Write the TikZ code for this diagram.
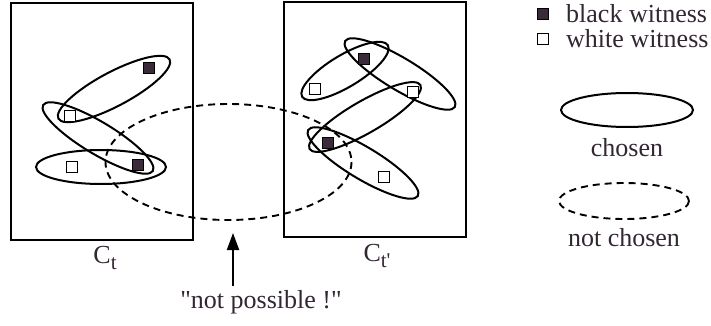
\documentclass[tikz,border=0pt]{standalone}
\usepackage{fontspec}
\setmainfont{Liberation Serif}
\newfontfamily\rawfont{Liberation Serif}
\usetikzlibrary{arrows.meta}
\definecolor{ink}{RGB}{50,38,50}
\definecolor{sqfill}{RGB}{58,42,58}
\tikzset{
  lbl/.style={inner sep=0pt, text=ink, font=\rawfont\fontsize{26}{30}\selectfont},
  bsq/.style={draw=black, fill=sqfill, line width=1.4pt, minimum size=11.5pt, inner sep=0pt},
  wsq/.style={draw=black, fill=white, line width=1.4pt, minimum size=11.5pt, inner sep=0pt},
  chosen/.style={draw=black, line width=2pt},
  notchosen/.style={draw=black, line width=1.9pt, dash pattern=on 7pt off 5pt},
  frame/.style={draw=black, line width=2pt},
}
\newcommand{\subt}[1]{\raisebox{-0.45ex}{\fontsize{21}{21}\selectfont #1}}
\begin{document}
\begin{tikzpicture}[x=1pt,y=-1pt]
\useasboundingbox (0,0) rectangle (711,326);
% boxes
\draw[frame] (11,3) rectangle (193,240);
\draw[frame] (284,2) rectangle (466,237);
\node[lbl] (ct) at (105,258) {C\subt{t}};
\node[lbl] (ctp) at (377,256) {C\subt{t'}};
% not chosen big ellipse
\draw[notchosen] (228.5,162) ellipse [x radius=123, y radius=58];
% left ellipses
\draw[chosen, rotate around={28:(114,89)}] (114,89) ellipse [x radius=63, y radius=17];
\draw[chosen, rotate around={-31:(98,138)}] (98,138) ellipse [x radius=64, y radius=16];
\draw[chosen] (101,167) ellipse [x radius=65, y radius=17];
% right ellipses
\draw[chosen, rotate around={31:(345,71)}] (345,71) ellipse [x radius=50, y radius=16];
\draw[chosen, rotate around={-31:(400,74)}] (400,74) ellipse [x radius=64, y radius=16];
\draw[chosen, rotate around={30:(365,117)}] (365,117) ellipse [x radius=64, y radius=16];
\draw[chosen, rotate around={-31:(363,163)}] (363,163) ellipse [x radius=64, y radius=16];
% left squares
\node[bsq] (l1) at (149,68) {};
\node[wsq] (l2) at (70,116) {};
\node[wsq] (l3) at (72,167) {};
\node[bsq] (l4) at (138,165) {};
% right squares
\node[bsq] (r1) at (364,59) {};
\node[wsq] (r2) at (315,89) {};
\node[wsq] (r3) at (413,92) {};
\node[bsq] (r4) at (328,143) {};
\node[wsq] (r5) at (384,177) {};
% arrow and text
\node[lbl] (np) at (261,302) {"not possible !"};
\coordinate (tip) at (233,233);
\draw[line width=2pt, -{Triangle[length=17pt,width=12pt]}] (233,286) -- (tip);
% legend
\node[bsq, minimum size=10.5pt] (kb) at (543,14) {};
\node[wsq, minimum size=10.5pt] (kw) at (543,39) {};
\node[lbl, anchor=west] (tb) at (566,14) {black witness};
\node[lbl, anchor=west] (tw) at (566,39) {white witness};
\draw[chosen] (627,110) ellipse [x radius=66, y radius=17];
\node[lbl] (tc) at (627,148) {chosen};
\draw[notchosen] (624,201) ellipse [x radius=65, y radius=18];
\node[lbl] (tn) at (624,238) {not chosen};
\end{tikzpicture}
\end{document}
